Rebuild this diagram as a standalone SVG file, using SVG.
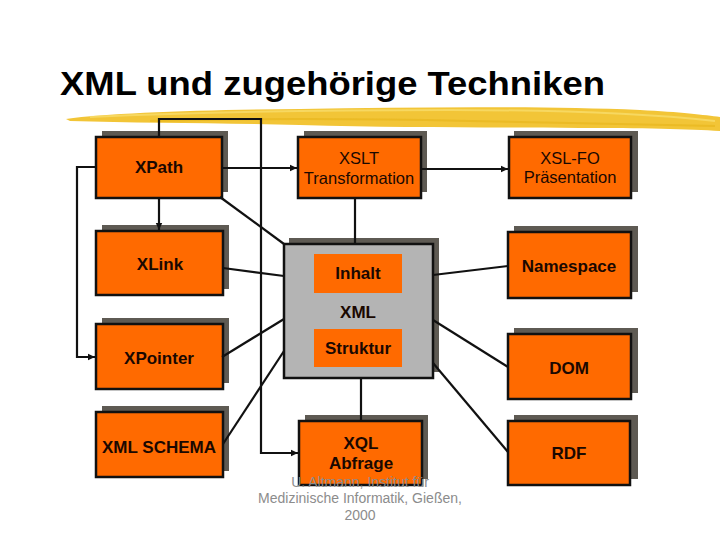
<svg xmlns="http://www.w3.org/2000/svg" width="720" height="540" viewBox="0 0 720 540">
<defs>
<style>
.sh{fill:#5e5a53}
.bx{fill:#ff6a00;stroke:#111;stroke-width:2.5}
.gx{fill:#b4b4b4;stroke:#111;stroke-width:2.5}
.in{fill:#ff6a00}
.t{font-family:"Liberation Sans",Arial,sans-serif;font-size:17px;font-weight:bold;fill:#1a0800;text-anchor:middle}
.r{font-family:"Liberation Sans",Arial,sans-serif;font-size:16.5px;fill:#1a0800;text-anchor:middle}
.c{fill:none;stroke:#111;stroke-width:2.2}
.f{font-family:"Liberation Sans",Arial,sans-serif;font-size:14px;fill:#8c8c8c;text-anchor:middle}
</style>
<marker id="ah" markerUnits="userSpaceOnUse" markerWidth="8" markerHeight="8" refX="7" refY="4" orient="auto">
<path d="M0,0.8 L7,4 L0,7.2 Z" fill="#111"/>
</marker>
</defs>
<rect width="720" height="540" fill="#ffffff"/>
<text x="60" y="95" font-family="'Liberation Sans',Arial,sans-serif" font-size="33" font-weight="bold" fill="#000" textLength="545" lengthAdjust="spacingAndGlyphs">XML und zugehörige Techniken</text>
<g id="brush">
<path d="M66,119 C110,113 200,110 300,109 C420,107 540,106 640,110 C680,112 705,115 720,117 L720,131 C690,129 640,128 580,128 C480,127 400,128 300,125 C220,123 140,123 70,121 Z" fill="#f2c537"/>
<path d="M90,117 C200,112 330,110 450,110 C560,110 650,114 715,121" fill="none" stroke="#f7dc6a" stroke-width="2" opacity="0.8"/>
<path d="M150,121 C260,118 380,119 470,121 C560,123 640,124 715,126" fill="none" stroke="#e8b820" stroke-width="2" opacity="0.8"/>
</g>
<g id="xpath"><rect class="sh" x="102" y="131" width="126" height="61"/><rect class="bx" x="96" y="137" width="126" height="61"/><text class="t" x="159" y="173">XPath</text></g>
<g id="xlink"><rect class="sh" x="102" y="225" width="127" height="64"/><rect class="bx" x="96" y="231" width="127" height="64"/><text class="t" x="160" y="270">XLink</text></g>
<g id="xpointer"><rect class="sh" x="102" y="318" width="127" height="65"/><rect class="bx" x="96" y="324" width="127" height="65"/><text class="t" x="159" y="364">XPointer</text></g>
<g id="xmlschema"><rect class="sh" x="102" y="406" width="127" height="65"/><rect class="bx" x="96" y="412" width="127" height="65"/><text class="t" x="159" y="453">XML SCHEMA</text></g>
<g id="xslt"><rect class="sh" x="304" y="131" width="123" height="61"/><rect class="bx" x="298" y="137" width="123" height="61"/><text class="r" x="359" y="164">XSLT</text><text class="r" x="359" y="184">Transformation</text></g>
<g id="xml"><rect class="sh" x="289" y="238" width="150" height="134"/><rect class="gx" x="284" y="244" width="149" height="134"/>
<rect class="in" x="314" y="254" width="88" height="39"/><text class="t" x="358" y="279" font-size="18">Inhalt</text>
<text class="t" x="358" y="318">XML</text>
<rect class="in" x="314" y="329" width="88" height="38"/><text class="t" x="358" y="354">Struktur</text></g>
<g id="xql"><rect class="sh" x="305" y="415" width="123" height="64"/><rect class="bx" x="299" y="421" width="123" height="64"/><text class="t" x="361" y="449">XQL</text><text class="t" x="361" y="469">Abfrage</text></g>
<g id="xslfo"><rect class="sh" x="514" y="131" width="124" height="61"/><rect class="bx" x="509" y="137" width="122" height="61"/><text class="r" x="570" y="164">XSL-FO</text><text class="r" x="570" y="183">Präsentation</text></g>
<g id="namespace"><rect class="sh" x="514" y="226" width="124" height="66"/><rect class="bx" x="508" y="232" width="123" height="66"/><text class="t" x="569" y="272">Namespace</text></g>
<g id="dom"><rect class="sh" x="514" y="328" width="124" height="65"/><rect class="bx" x="508" y="334" width="123" height="65"/><text class="t" x="569" y="374">DOM</text></g>
<g id="rdf"><rect class="sh" x="514" y="415" width="124" height="64"/><rect class="bx" x="508" y="421" width="122" height="64"/><text class="t" x="569" y="459">RDF</text></g>
<g id="connectors">
<path class="c" d="M96,167 H77 V357 H95" marker-end="url(#ah)"/>
<path class="c" d="M159,198 V230" marker-end="url(#ah)"/>
<path class="c" d="M159,137 V119 H261 V453 H298" marker-end="url(#ah)"/>
<path class="c" d="M222,168 H297" marker-end="url(#ah)"/>
<path class="c" d="M421,169 H508" marker-end="url(#ah)"/>
<path class="c" d="M220,197 L284,244"/>
<path class="c" d="M223,268 L284,276"/>
<path class="c" d="M222,357 L284,319"/>
<path class="c" d="M223,444 L284,351"/>
<path class="c" d="M355,198 V244"/>
<path class="c" d="M433,275 L508,266"/>
<path class="c" d="M433,320 L508,367"/>
<path class="c" d="M433,363 L508,452"/>
<path class="c" d="M361,378 V421"/>
</g>
<g id="footer">
<text class="f" x="360" y="487">U. Altmann, Institut für</text>
<text class="f" x="360" y="503">Medizinische Informatik, Gießen,</text>
<text class="f" x="360" y="520">2000</text>
</g>
</svg>
